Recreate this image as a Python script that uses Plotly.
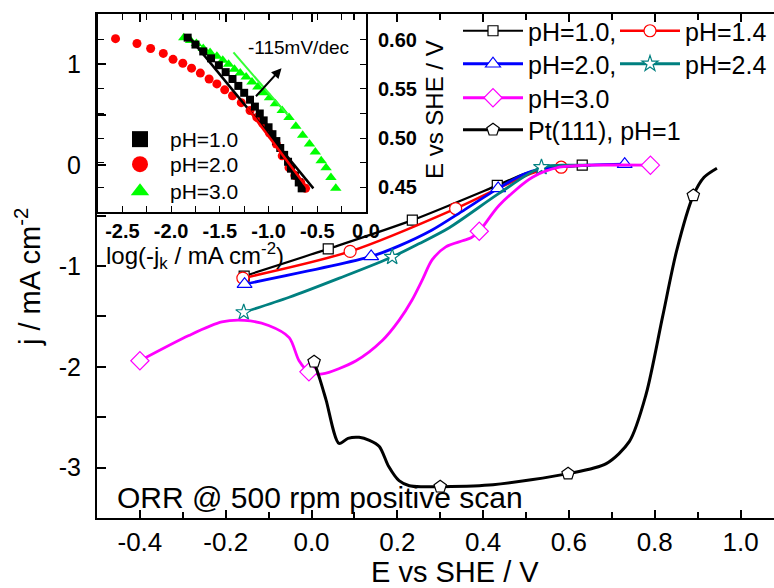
import plotly.graph_objects as go

FONT = "Arial, Liberation Sans, sans-serif"
W, H = 774, 588
ML, MR, MT, MB = 97, 0, 14, 70
PW, PH = W - ML - MR, H - MT - MB


def px_x(p):
    return (p - ML) / PW


def px_y(p):
    return (H - MB - p) / PH


# ---------------- main chart data (E vs SHE / V, j / mA cm-2) ----------------
E_ph10 = [-0.157, 0.039, 0.235, 0.433, 0.50, 0.56, 0.631]
j_ph10 = [-1.10, -0.83, -0.545, -0.20, -0.08, -0.02, 0.0]
mE_ph10 = [-0.157, 0.039, 0.235, 0.433, 0.631]
mj_ph10 = [-1.10, -0.83, -0.545, -0.20, 0.0]

E_ph14 = [-0.16, 0.09, 0.336, 0.45, 0.52, 0.582, 0.65]
j_ph14 = [-1.12, -0.855, -0.43, -0.20, -0.07, -0.02, 0.0]
mE_ph14 = [-0.16, 0.09, 0.336, 0.582]
mj_ph14 = [-1.12, -0.855, -0.43, -0.02]

E_ph20 = [-0.156, 0.139, 0.204, 0.28, 0.35, 0.435, 0.50, 0.56, 0.65, 0.73]
j_ph20 = [-1.18, -0.905, -0.80, -0.645, -0.46, -0.23, -0.08, -0.02, 0.0, 0.01]
mE_ph20 = [-0.156, 0.139, 0.435, 0.73]
mj_ph20 = [-1.18, -0.905, -0.23, 0.01]

E_ph24 = [-0.158, -0.052, 0.065, 0.188, 0.25, 0.321, 0.437, 0.536, 0.60, 0.65]
j_ph24 = [-1.46, -1.31, -1.12, -0.91, -0.78, -0.62, -0.28, -0.02, 0.0, 0.0]
mE_ph24 = [-0.158, 0.188, 0.536]
mj_ph24 = [-1.46, -0.91, -0.02]

E_ph30 = [-0.40, -0.286, -0.209, -0.156, -0.10, -0.052, -0.029, -0.006, 0.025, 0.104, 0.165,
          0.204, 0.234, 0.258, 0.281, 0.313, 0.352, 0.372, 0.391, 0.437, 0.515, 0.578, 0.65, 0.79]
j_ph30 = [-1.94, -1.69, -1.555, -1.54, -1.59, -1.71, -1.94, -2.05, -2.07, -1.94, -1.74,
          -1.54, -1.34, -1.14, -0.94, -0.81, -0.75, -0.72, -0.655, -0.40, -0.12, -0.02, 0.0, 0.0]
mE_ph30 = [-0.40, -0.006, 0.391, 0.79]
mj_ph30 = [-1.94, -2.05, -0.655, 0.0]

E_pt = [0.006, 0.02, 0.034, 0.064, 0.085, 0.111, 0.135, 0.158, 0.18, 0.204, 0.228, 0.261, 0.30,
        0.423, 0.598, 0.687, 0.741, 0.78, 0.818, 0.851, 0.89, 0.915, 0.945]
j_pt = [-1.95, -2.13, -2.33, -2.76, -2.71, -2.70, -2.73, -2.79, -2.99, -3.13, -3.18, -3.19, -3.19,
        -3.17, -3.06, -2.96, -2.74, -2.27, -1.51, -0.85, -0.30, -0.12, -0.03]
mE_pt = [0.006, 0.30, 0.598, 0.89]
mj_pt = [-1.95, -3.19, -3.06, -0.30]

# ---------------- inset data (log(-jk), E) ----------------
ins_x_ph1 = [-1.83, -1.75, -1.67, -1.59, -1.51, -1.44, -1.37, -1.31, -1.25, -1.19, -1.14, -1.09,
             -1.05, -1.00, -0.96, -0.92, -0.88, -0.84, -0.80, -0.77, -0.73, -0.69, -0.66]
ins_y_ph1 = [0.602, 0.595, 0.588, 0.581, 0.574, 0.567, 0.560, 0.553, 0.546, 0.539, 0.532, 0.525,
             0.518, 0.511, 0.504, 0.497, 0.490, 0.483, 0.476, 0.469, 0.462, 0.455, 0.449]
ins_x_ph2 = [-2.57, -2.35, -2.21, -2.08, -1.98, -1.88, -1.79, -1.70, -1.61, -1.53, -1.45, -1.37,
             -1.28, -1.19, -1.12, -1.06, -0.99, -0.92, -0.86, -0.79, -0.73, -0.67, -0.62]
ins_y_ph2 = [0.601, 0.596, 0.591, 0.586, 0.580, 0.576, 0.571, 0.566, 0.560, 0.555, 0.549, 0.543,
             0.536, 0.528, 0.521, 0.515, 0.505, 0.494, 0.482, 0.470, 0.462, 0.455, 0.449]
ins_x_ph3 = [-1.87, -1.80, -1.74, -1.67, -1.60, -1.53, -1.47, -1.41, -1.35, -1.29, -1.23, -1.17, -1.11,
             -1.05, -0.99, -0.93, -0.86, -0.79, -0.72, -0.65, -0.58, -0.52, -0.46, -0.41, -0.36, -0.31]
ins_y_ph3 = [0.602, 0.599, 0.596, 0.591, 0.587, 0.583, 0.579, 0.575, 0.570, 0.566, 0.562, 0.557, 0.552,
             0.546, 0.541, 0.535, 0.528, 0.521, 0.512, 0.503, 0.494, 0.486, 0.477, 0.470, 0.460, 0.449]
fit_x_ph1 = [-1.81, -0.54]
fit_y_ph1 = [0.602, 0.449]
fit_x_ph2 = [-1.22, -0.60]
fit_y_ph2 = [0.531, 0.449]
fit_x_ph3 = [-1.36, -0.80]
fit_y_ph3 = [0.587, 0.523]

# tick labels
main_xtick_vals = [-0.4, -0.2, 0.0, 0.2, 0.4, 0.6, 0.8, 1.0]
main_xtick_text = ["-0.4", "-0.2", "0.0", "0.2", "0.4", "0.6", "0.8", "1.0"]
main_ytick_vals = [-3, -2, -1, 0, 1]
main_ytick_text = ["-3", "-2", "-1", "0", "1"]
ins_xtick_vals = [-2.5, -2.0, -1.5, -1.0, -0.5, 0.0]
ins_xtick_text = ["-2.5", "-2.0", "-1.5", "-1.0", "-0.5", "0.0"]
ins_ytick_vals = [0.45, 0.50, 0.55, 0.60]
ins_ytick_text = ["0.45", "0.50", "0.55", "0.60"]

fig = go.Figure()

# (name, E, j, marker E, marker j, colour, symbol, marker size, line width, legend id, legend left px, legend top px)
main_series = [
    ("pH=1.0,", E_ph10, j_ph10, mE_ph10, mj_ph10, "#000000", "square", 10, 2.2, "legend", 458, 8),
    ("pH=1.4", E_ph14, j_ph14, mE_ph14, mj_ph14, "#FF0000", "circle", 12, 2.5, "legend2", 615, 8),
    ("pH=2.0,", E_ph20, j_ph20, mE_ph20, mj_ph20, "#0000FF", "triangle-up", 13, 2.8, "legend3", 458, 41),
    ("pH=2.4", E_ph24, j_ph24, mE_ph24, mj_ph24, "#008080", "star", 12, 2.8, "legend4", 615, 41),
    ("pH=3.0", E_ph30, j_ph30, mE_ph30, mj_ph30, "#FF00FF", "diamond", 14, 2.8, "legend5", 458, 75),
    ("Pt(111), pH=1", E_pt, j_pt, mE_pt, mj_pt, "#000000", "pentagon", 13, 3.0, "legend6", 458, 107),
]

legends = {}
for name, ex, jy, mx, my, col, sym, ms, lw, leg, lx, ly in main_series:
    fig.add_trace(go.Scatter(x=ex, y=jy, mode="lines", line=dict(color=col, width=lw, shape="spline", smoothing=0.8),
                             showlegend=False, hoverinfo="skip"))
    fig.add_trace(go.Scatter(x=mx, y=my, mode="markers",
                             marker=dict(symbol=sym, size=ms, color="white", line=dict(color=col, width=1.2)),
                             showlegend=False))
    fig.add_trace(go.Scatter(x=[None], y=[None], mode="lines+markers", name=name, legend=leg,
                             line=dict(color=col, width=lw),
                             marker=dict(symbol=sym, size=ms, color="white", line=dict(color=col, width=1.2))))
    legends[leg] = dict(x=px_x(lx), y=px_y(ly), xanchor="left", yanchor="top", font=dict(size=25),
                        itemwidth=60, bgcolor="rgba(0,0,0,0)")

# inset
fig.add_trace(go.Scatter(x=ins_x_ph2, y=ins_y_ph2, xaxis="x2", yaxis="y2", mode="markers",
                         marker=dict(symbol="circle", size=9, color="#FF0000"), showlegend=False))
fig.add_trace(go.Scatter(x=ins_x_ph3, y=ins_y_ph3, xaxis="x2", yaxis="y2", mode="markers",
                         marker=dict(symbol="triangle-up", size=10, color="#00FF00"), showlegend=False))
fig.add_trace(go.Scatter(x=ins_x_ph1, y=ins_y_ph1, xaxis="x2", yaxis="y2", mode="markers",
                         marker=dict(symbol="square", size=8, color="#000000"), showlegend=False))
fig.add_trace(go.Scatter(x=fit_x_ph1, y=fit_y_ph1, xaxis="x2", yaxis="y2", mode="lines",
                         line=dict(color="#000000", width=2.5), showlegend=False))
fig.add_trace(go.Scatter(x=fit_x_ph2, y=fit_y_ph2, xaxis="x2", yaxis="y2", mode="lines",
                         line=dict(color="#FF0000", width=2.5), showlegend=False))
fig.add_trace(go.Scatter(x=fit_x_ph3, y=fit_y_ph3, xaxis="x2", yaxis="y2", mode="lines",
                         line=dict(color="#33FF33", width=2), showlegend=False))
for nm, sym, col, leg, ly in [("pH=1.0", "square", "#000000", "legend7", 119),
                              ("pH=2.0", "circle", "#FF0000", "legend8", 144),
                              ("pH=3.0", "triangle-up", "#00FF00", "legend9", 171)]:
    fig.add_trace(go.Scatter(x=[None], y=[None], xaxis="x2", yaxis="y2", mode="markers", name=nm,
                             legend=leg, marker=dict(symbol=sym, size=16, color=col)))
    legends[leg] = dict(x=px_x(110), y=px_y(ly), xanchor="left", yanchor="top", font=dict(size=21),
                        itemwidth=50, bgcolor="rgba(0,0,0,0)")

axis_common = dict(showgrid=False, zeroline=False, showline=True, linecolor="black", ticks="inside",
                   tickcolor="black")

fig.update_layout(
    width=W, height=H, margin=dict(l=ML, r=MR, t=MT, b=MB, autoexpand=False),
    paper_bgcolor="white", plot_bgcolor="rgba(0,0,0,0)",
    font=dict(family=FONT, color="black"),
    xaxis=dict(**axis_common, range=[-0.5, 1.078], linewidth=2, mirror="ticks", tickmode="array",
               tickvals=main_xtick_vals, ticktext=main_xtick_text, ticklen=8, tickwidth=1.5,
               tickfont=dict(size=26), ticklabelstandoff=0,
               minor=dict(ticks="inside", dtick=0.1, tick0=0, ticklen=6, tickcolor="black", tickwidth=1.5)),
    yaxis=dict(**axis_common, range=[-3.5, 1.5], linewidth=2, mirror=False, tickmode="array",
               tickvals=main_ytick_vals, ticktext=main_ytick_text, ticklen=9, tickwidth=1.5,
               tickfont=dict(size=25), ticklabelstandoff=9,
               minor=dict(ticks="inside", dtick=0.5, tick0=0, ticklen=9, tickcolor="black", tickwidth=1.5)),
    xaxis2=dict(**axis_common, domain=[px_x(98), px_x(366)], anchor="y2", range=[-2.75, 0.0], linewidth=2,
                mirror="ticks", tickmode="array", tickvals=ins_xtick_vals, ticktext=ins_xtick_text, ticklen=6,
                tickfont=dict(size=20, weight="bold"), ticklabelstandoff=0,
                minor=dict(ticks="inside", dtick=0.25, tick0=0, ticklen=6, tickcolor="black")),
    yaxis2=dict(**axis_common, domain=[px_y(212), px_y(14)], anchor="x2", side="right", range=[0.425, 0.626],
                linewidth=2, mirror="ticks", tickmode="array", tickvals=ins_ytick_vals, ticktext=ins_ytick_text,
                ticklen=6, tickfont=dict(size=20, weight="bold"), ticklabelstandoff=6,
                minor=dict(ticks="inside", dtick=0.025, tick0=0, ticklen=6, tickcolor="black")),
    **legends,
)

annotations = [
    dict(text="E vs SHE / V", x=px_x(455), y=px_y(572), xref="paper", yref="paper", showarrow=False,
         font=dict(size=29), xanchor="center", yanchor="middle"),
    dict(text="j / mA cm<sup>-2</sup>", x=px_x(28), y=px_y(277), xref="paper", yref="paper", showarrow=False,
         font=dict(size=29), textangle=-90, xanchor="center", yanchor="middle"),
    dict(text="ORR @ 500 rpm positive scan", x=px_x(115), y=px_y(497), xref="paper", yref="paper",
         showarrow=False, font=dict(size=30), xanchor="left", yanchor="middle"),
    dict(text="log(-j<sub>k</sub> / mA cm<sup>-2</sup>)", x=px_x(104), y=px_y(256), xref="paper", yref="paper",
         showarrow=False, font=dict(size=24), xanchor="left", yanchor="middle"),
    dict(text="E vs SHE / V", x=px_x(434), y=px_y(110), xref="paper", yref="paper", showarrow=False,
         font=dict(size=24), textangle=-90, xanchor="center", yanchor="middle"),
    dict(text="-115mV/dec", x=-0.694, y=0.592, xref="x2", yref="y2", showarrow=False,
         font=dict(size=19), xanchor="center", yanchor="middle"),
    dict(text="", x=-0.867, y=0.571, ax=-1.143, ay=0.541, xref="x2", yref="y2", axref="x2", ayref="y2",
         showarrow=True, arrowhead=2, arrowsize=1, arrowwidth=2, arrowcolor="black"),
]
fig.update_layout(annotations=annotations)

fig.write_html("out.html")
